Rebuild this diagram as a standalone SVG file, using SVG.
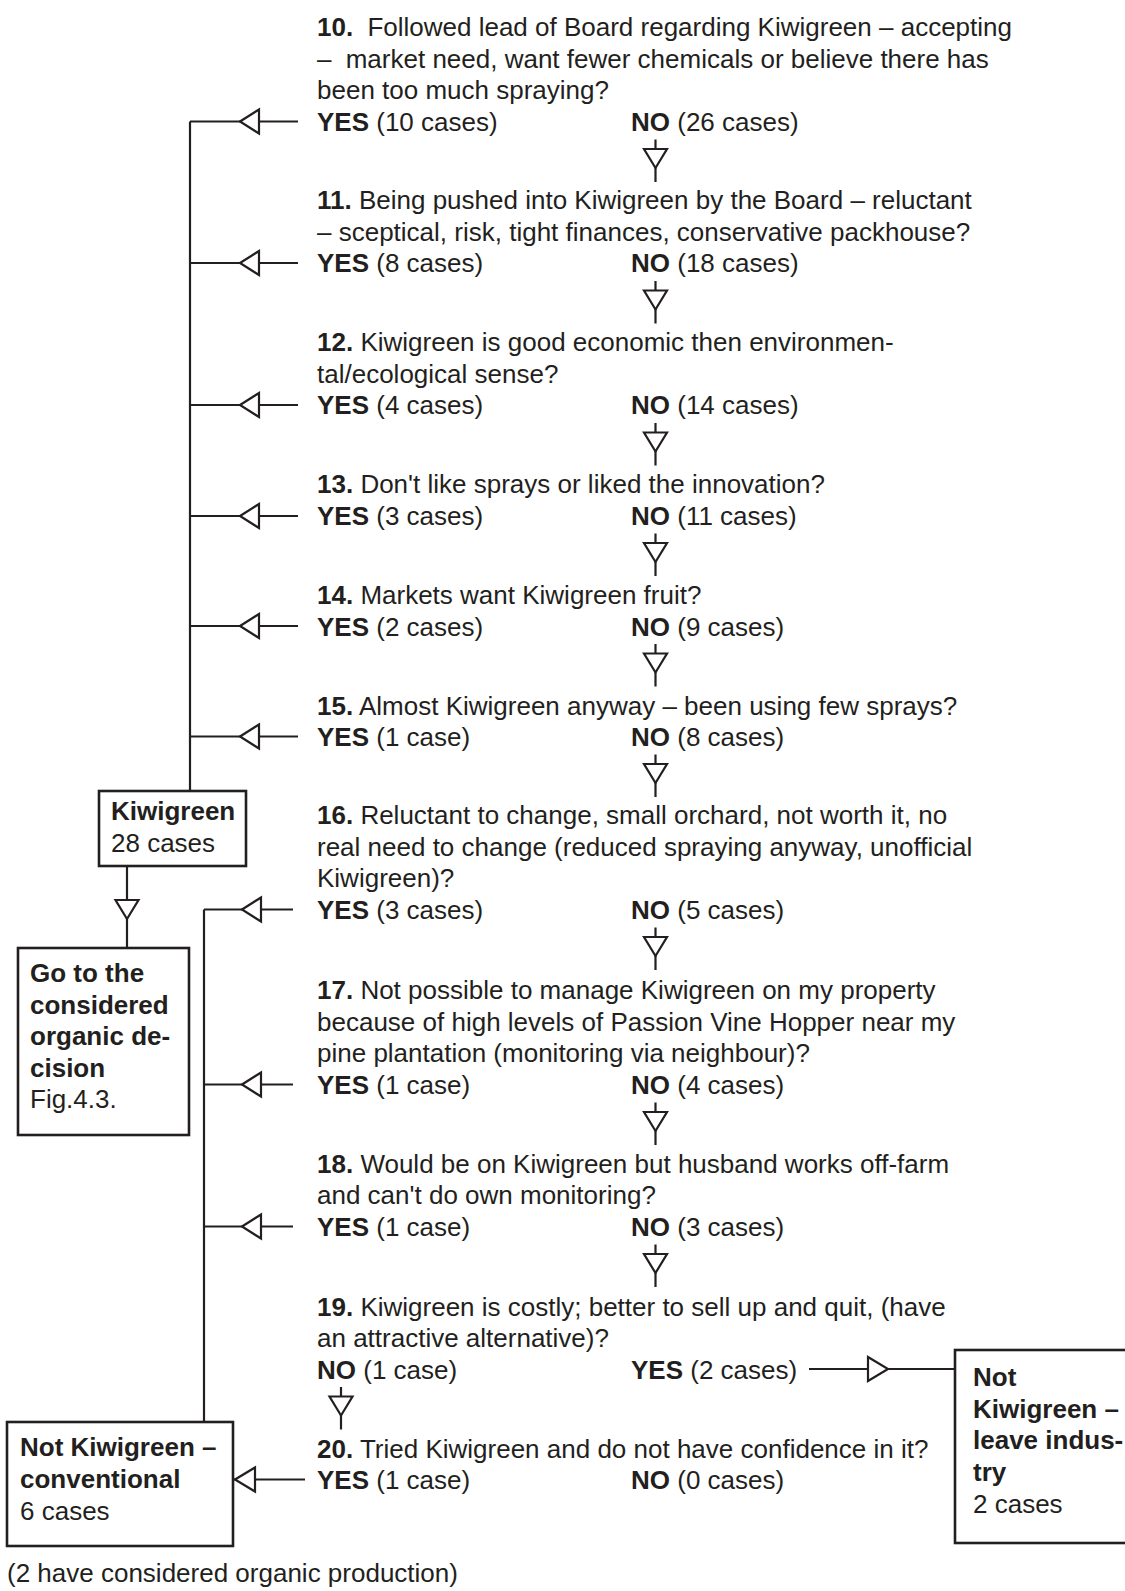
<svg xmlns="http://www.w3.org/2000/svg" width="1125" height="1591" viewBox="0 0 1125 1591">
<style>
text{font-family:"Liberation Sans",Arial,Helvetica,sans-serif;font-size:26px;fill:#231f20}
.b{font-weight:bold}
.ln{stroke:#231f20;stroke-width:2.2;fill:none}
.ah{stroke:#231f20;stroke-width:2.2;fill:#fff;stroke-linejoin:miter}
.box{stroke:#231f20;stroke-width:2.6;fill:#fff}
</style>
<rect width="1125" height="1591" fill="#fff"/>

<g id="connectors">
  <!-- left trunk 1 -->
  <path class="ln" d="M190 121.5V791"/>
  <path class="ln" d="M190 121.5H298M190 263H298M190 405H298M190 516H298M190 626H298M190 736.5H298"/>
  <polygon class="ah" points="240,121.5 259,109.5 259,133.5"/>
  <polygon class="ah" points="240,263 259,251 259,275"/>
  <polygon class="ah" points="240,405 259,393 259,417"/>
  <polygon class="ah" points="240,516 259,504 259,528"/>
  <polygon class="ah" points="240,626 259,614 259,638"/>
  <polygon class="ah" points="240,736.5 259,724.5 259,748.5"/>
  <!-- Kiwigreen down -->
  <path class="ln" d="M127 866V948"/>
  <polygon class="ah" points="115.5,900 138.5,900 127,919"/>
  <!-- left trunk 2 -->
  <path class="ln" d="M204 909.5V1422"/>
  <path class="ln" d="M204 909.5H293M204 1084.5H293M204 1226.5H293"/>
  <polygon class="ah" points="242,909.5 261,897.5 261,921.5"/>
  <polygon class="ah" points="242,1084.5 261,1072.5 261,1096.5"/>
  <polygon class="ah" points="242,1226.5 261,1214.5 261,1238.5"/>
  <!-- 20 yes -->
  <path class="ln" d="M233 1479.5H305"/>
  <polygon class="ah" points="235,1479.5 255,1467.5 255,1491.5"/>
  <!-- NO down arrows -->
  <path class="ln" d="M655.5 139.5V182M655.5 281V323.5M655.5 423V465.5M655.5 533.5V576M655.5 644V686.5M655.5 754.5V797M655.5 927.5V970M655.5 1102.5V1145M655.5 1244.5V1287M341 1387V1429.5"/>
  <polygon class="ah" points="644,149 667,149 655.5,168"/>
  <polygon class="ah" points="644,290.5 667,290.5 655.5,309.5"/>
  <polygon class="ah" points="644,432.5 667,432.5 655.5,451.5"/>
  <polygon class="ah" points="644,543 667,543 655.5,562"/>
  <polygon class="ah" points="644,653.5 667,653.5 655.5,672.5"/>
  <polygon class="ah" points="644,764 667,764 655.5,783"/>
  <polygon class="ah" points="644,937 667,937 655.5,956"/>
  <polygon class="ah" points="644,1112 667,1112 655.5,1131"/>
  <polygon class="ah" points="644,1254 667,1254 655.5,1273"/>
  <polygon class="ah" points="329.5,1396.5 352.5,1396.5 341,1415.5"/>
  <!-- 19 yes right -->
  <path class="ln" d="M809 1369H955"/>
  <polygon class="ah" points="868,1357 868,1381 888,1369"/>
</g>

<g id="q10">
  <text x="317" y="36"><tspan class="b">10.</tspan><tspan dx="7"> Followed lead of Board regarding Kiwigreen – accepting</tspan></text>
  <text x="317" y="67.7">–<tspan dx="7"> market need, want fewer chemicals or believe there has</tspan></text>
  <text x="317" y="99.4">been too much spraying?</text>
  <text x="317" y="131"><tspan class="b">YES</tspan> (10 cases)</text>
  <text x="631" y="131"><tspan class="b">NO</tspan> (26 cases)</text>
</g>
<g id="q11">
  <text x="317" y="209"><tspan class="b">11.</tspan> Being pushed into Kiwigreen by the Board – reluctant</text>
  <text x="317" y="240.7">– sceptical, risk, tight finances, conservative packhouse?</text>
  <text x="317" y="272.4"><tspan class="b">YES</tspan> (8 cases)</text>
  <text x="631" y="272.4"><tspan class="b">NO</tspan> (18 cases)</text>
</g>
<g id="q12">
  <text x="317" y="351"><tspan class="b">12.</tspan> Kiwigreen is good economic then environmen-</text>
  <text x="317" y="382.7">tal/ecological sense?</text>
  <text x="317" y="414.4"><tspan class="b">YES</tspan> (4 cases)</text>
  <text x="631" y="414.4"><tspan class="b">NO</tspan> (14 cases)</text>
</g>
<g id="q13">
  <text x="317" y="493"><tspan class="b">13.</tspan> Don't like sprays or liked the innovation?</text>
  <text x="317" y="525"><tspan class="b">YES</tspan> (3 cases)</text>
  <text x="631" y="525"><tspan class="b">NO</tspan> (11 cases)</text>
</g>
<g id="q14">
  <text x="317" y="604"><tspan class="b">14.</tspan> Markets want Kiwigreen fruit?</text>
  <text x="317" y="635.5"><tspan class="b">YES</tspan> (2 cases)</text>
  <text x="631" y="635.5"><tspan class="b">NO</tspan> (9 cases)</text>
</g>
<g id="q15">
  <text x="317" y="714.5"><tspan class="b">15.</tspan> Almost Kiwigreen anyway – been using few sprays?</text>
  <text x="317" y="746"><tspan class="b">YES</tspan> (1 case)</text>
  <text x="631" y="746"><tspan class="b">NO</tspan> (8 cases)</text>
</g>
<g id="q16">
  <text x="317" y="824"><tspan class="b">16.</tspan> Reluctant to change, small orchard, not worth it, no</text>
  <text x="317" y="855.7">real need to change (reduced spraying anyway, unofficial</text>
  <text x="317" y="887.4">Kiwigreen)?</text>
  <text x="317" y="919"><tspan class="b">YES</tspan> (3 cases)</text>
  <text x="631" y="919"><tspan class="b">NO</tspan> (5 cases)</text>
</g>
<g id="q17">
  <text x="317" y="999"><tspan class="b">17.</tspan> Not possible to manage Kiwigreen on my property</text>
  <text x="317" y="1030.6">because of high levels of Passion Vine Hopper near my</text>
  <text x="317" y="1062.3">pine plantation (monitoring via neighbour)?</text>
  <text x="317" y="1094"><tspan class="b">YES</tspan> (1 case)</text>
  <text x="631" y="1094"><tspan class="b">NO</tspan> (4 cases)</text>
</g>
<g id="q18">
  <text x="317" y="1172.5"><tspan class="b">18.</tspan> Would be on Kiwigreen but husband works off-farm</text>
  <text x="317" y="1204.2">and can't do own monitoring?</text>
  <text x="317" y="1236"><tspan class="b">YES</tspan> (1 case)</text>
  <text x="631" y="1236"><tspan class="b">NO</tspan> (3 cases)</text>
</g>
<g id="q19">
  <text x="317" y="1315.5"><tspan class="b">19.</tspan> Kiwigreen is costly; better to sell up and quit, (have</text>
  <text x="317" y="1347">an attractive alternative)?</text>
  <text x="317" y="1378.5"><tspan class="b">NO</tspan> (1 case)</text>
  <text x="631" y="1378.5"><tspan class="b">YES</tspan> (2 cases)</text>
</g>
<g id="q20">
  <text x="317" y="1457.5"><tspan class="b">20.</tspan> Tried Kiwigreen and do not have confidence in it?</text>
  <text x="317" y="1489"><tspan class="b">YES</tspan> (1 case)</text>
  <text x="631" y="1489"><tspan class="b">NO</tspan> (0 cases)</text>
</g>

<g id="kiwigreen">
  <rect class="box" x="99" y="791" width="147" height="75"/>
  <text x="111" y="820" class="b">Kiwigreen</text>
  <text x="111" y="852">28 cases</text>
</g>
<g id="organic">
  <rect class="box" x="18" y="948" width="171" height="187"/>
  <text x="30" y="982" class="b">Go to the</text>
  <text x="30" y="1013.5" class="b">considered</text>
  <text x="30" y="1045" class="b">organic de-</text>
  <text x="30" y="1076.5" class="b">cision</text>
  <text x="30" y="1108">Fig.4.3.</text>
</g>
<g id="conventional">
  <rect class="box" x="7" y="1422" width="226" height="124"/>
  <text x="20" y="1456" class="b">Not Kiwigreen –</text>
  <text x="20" y="1488" class="b">conventional</text>
  <text x="20" y="1520">6 cases</text>
</g>
<g id="leave">
  <rect class="box" x="955" y="1350" width="200" height="193"/>
  <text x="973" y="1386" class="b">Not</text>
  <text x="973" y="1417.7" class="b">Kiwigreen –</text>
  <text x="973" y="1449.4" class="b">leave indus-</text>
  <text x="973" y="1481" class="b">try</text>
  <text x="973" y="1513">2 cases</text>
</g>
<g id="footnote">
  <text x="7" y="1582">(2 have considered organic production)</text>
</g>
</svg>
